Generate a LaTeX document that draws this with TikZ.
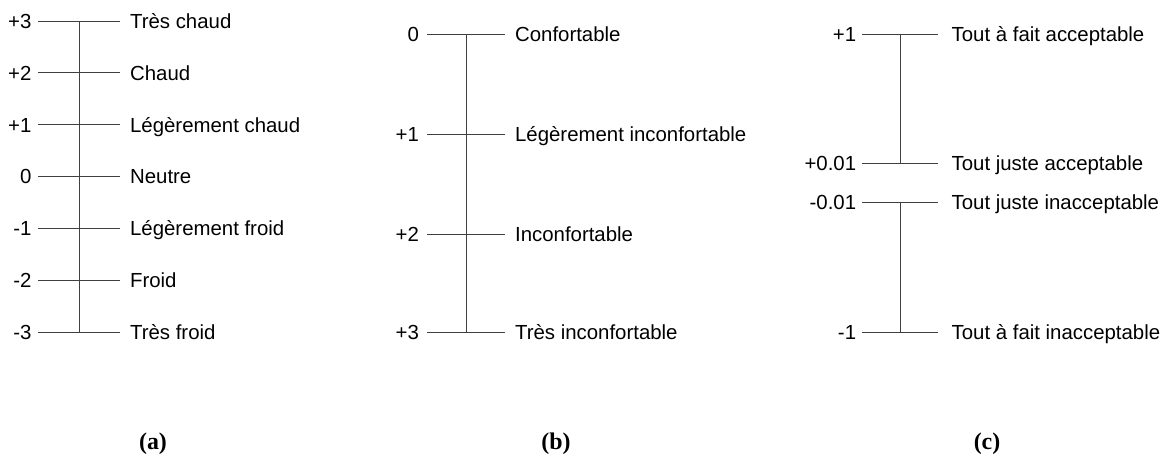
\documentclass[tikz,border=0pt]{standalone}
\usepackage{fontspec}
\newfontfamily\lblfont{Liberation Sans}
\newfontfamily\capfont{Liberation Serif}
\usetikzlibrary{positioning}

\tikzset{
  scaleline/.style={draw=black!75, line width=0.7pt},
  lbl/.style={inner sep=0pt, text height=10.4pt, text depth=0pt,
    font=\lblfont\fontsize{14.5}{17}\selectfont},
  caption/.style={anchor=base, font=\capfont\bfseries\fontsize{17}{20}\selectfont}
}

\begin{document}
\begin{tikzpicture}[x=0.025cm, y=-0.025cm]
\useasboundingbox (0,0) rectangle (1161,458);

% (a) thermal sensation
\foreach \y/\v/\t [count=\i] in {21/+3/Très chaud, 72.8/+2/Chaud,
    124.7/+1/Légèrement chaud, 176.5/0/Neutre, 228.3/-1/Légèrement froid,
    280.2/-2/Froid, 332/-3/Très froid} {
  \coordinate (a\i l) at (38,\y);
  \coordinate (a\i) at (79,\y);
  \coordinate (a\i r) at (120,\y);
  \draw[scaleline] (a\i l) -- (a\i r);
  \node[lbl, left=4.5pt of a\i l] (av\i) {\v};
  \node[lbl, right=7pt of a\i r] (at\i) {\t};
}
\draw[scaleline] (a1) -- (a7);
\node[caption] (capa) at (153,449) {(a)};

% (b) thermal comfort
\foreach \y/\v/\t [count=\i] in {34/0/Confortable, 134/+1/Légèrement inconfortable,
    234/+2/Inconfortable, 332/+3/Très inconfortable} {
  \coordinate (b\i l) at (427,\y);
  \coordinate (b\i) at (466,\y);
  \coordinate (b\i r) at (505,\y);
  \draw[scaleline] (b\i l) -- (b\i r);
  \node[lbl, left=5.5pt of b\i l] (bv\i) {\v};
  \node[lbl, right=7pt of b\i r] (bt\i) {\t};
}
\draw[scaleline] (b1) -- (b4);
\node[caption] (capb) at (556,449) {(b)};

% (c) acceptability
\foreach \y/\v/\t [count=\i] in {34/+1/Tout à fait acceptable,
    163/+0.01/Tout juste acceptable, 202/-0.01/Tout juste inacceptable,
    332/-1/Tout à fait inacceptable} {
  \coordinate (c\i l) at (862,\y);
  \coordinate (c\i) at (900,\y);
  \coordinate (c\i r) at (938,\y);
  \draw[scaleline] (c\i l) -- (c\i r);
  \node[lbl, left=4pt of c\i l] (cv\i) {\v};
  \node[lbl, right=9.5pt of c\i r] (ct\i) {\t};
}
\draw[scaleline] (c1) -- (c2);
\draw[scaleline] (c3) -- (c4);
\node[caption] (capc) at (987,449) {(c)};
\end{tikzpicture}
\end{document}
